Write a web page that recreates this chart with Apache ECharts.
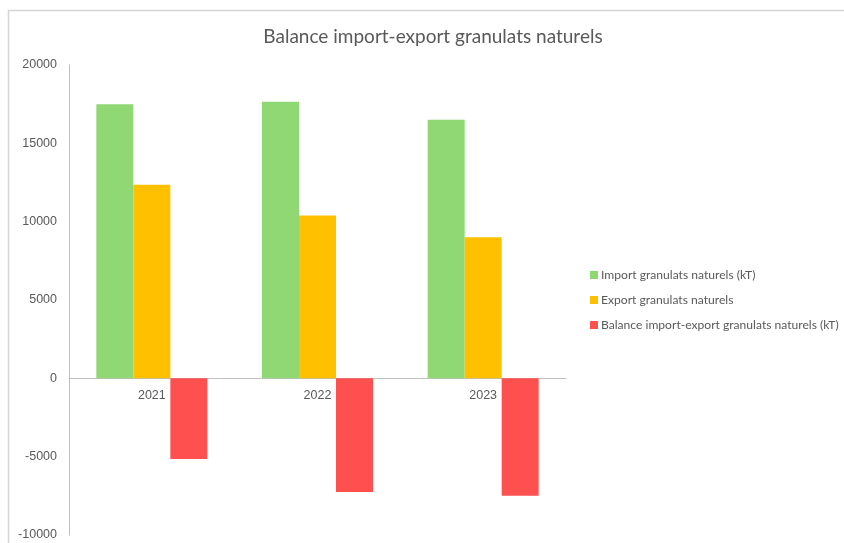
<!DOCTYPE html>
<html>
<head>
<meta charset="utf-8">
<script src="https://cdn.jsdelivr.net/npm/echarts@6/dist/echarts.min.js"></script>
<style>
  html, body { margin: 0; padding: 0; background: #ffffff; }
  #chart { width: 844px; height: 543px; }
</style>
</head>
<body>
<div id="chart"></div>
<script>
// Years shown on the category axis
const years = ['2021', '2022', '2023'];

// Quantities in kilotonnes
const importValues = [17500, 17650, 16500];
const exportValues = [12350, 10400, 9000];
const balanceValues = [-5150, -7250, -7500];

const seriesNames = [
  'Import granulats naturels (kT)',
  'Export granulats naturels',
  'Balance import-export granulats naturels (kT)'
];
const seriesColors = ['#90D873', '#FFC000', '#FF5050'];
const seriesValues = [importValues, exportValues, balanceValues];

const yMin = -10000;
const yMax = 20000;

const chart = echarts.init(document.getElementById('chart'), null, { renderer: 'canvas' });

const labelGrey = '#595959';
const axisGrey = '#BFBFBF';

// Plot area geometry, used to place the category axis on the zero line
const gridTop = 65;
const gridBottom = 8;
const plotHeight = 543 - gridTop - gridBottom;
const zeroFromBottom = plotHeight * (0 - yMin) / (yMax - yMin);

chart.setOption({
  backgroundColor: '#ffffff',
  animation: false,
  title: {
    text: 'Balance import-export granulats naturels',
    left: 428,
    textAlign: 'center',
    top: 22,
    textStyle: {
      fontFamily: 'Lato',
      fontSize: 19,
      fontWeight: 'normal',
      color: labelGrey
    }
  },
  graphic: [{
    type: 'rect',
    shape: { x: 8.5, y: 10.5, width: 900, height: 600 },
    style: { fill: 'none', stroke: '#D6D6D6', lineWidth: 1.5 },
    silent: true,
    z: -1
  }],
  legend: {
    orient: 'vertical',
    left: 585,
    top: 264,
    itemWidth: 8,
    itemHeight: 8,
    itemGap: 13,
    icon: 'rect',
    textStyle: {
      fontFamily: 'Lato',
      fontSize: 12.1,
      color: labelGrey,
      padding: [0, 0, 0, -2]
    },
    data: seriesNames
  },
  grid: {
    left: 69,
    right: 278,
    top: gridTop,
    bottom: gridBottom,
    containLabel: false
  },
  xAxis: {
    type: 'category',
    data: years,
    position: 'bottom',
    offset: -zeroFromBottom,
    axisLine: { onZero: false, lineStyle: { color: axisGrey, width: 1 } },
    axisTick: { show: false },
    axisLabel: {
      fontFamily: 'Liberation Sans',
      fontSize: 12.5,
      color: labelGrey,
      margin: 11
    },
    splitLine: { show: false }
  },
  yAxis: {
    type: 'value',
    min: yMin,
    max: yMax,
    interval: 5000,
    axisLine: { show: true, lineStyle: { color: axisGrey, width: 1 } },
    axisTick: { show: false },
    splitLine: { show: false },
    axisLabel: {
      fontFamily: 'Liberation Sans',
      fontSize: 12.5,
      color: labelGrey,
      margin: 12,
      formatter: (v) => String(v)
    }
  },
  series: seriesNames.map((name, i) => ({
    name: name,
    type: 'bar',
    data: seriesValues[i],
    barGap: '0%',
    barCategoryGap: '33%',
    itemStyle: { color: seriesColors[i] }
  }))
});
</script>
</body>
</html>
